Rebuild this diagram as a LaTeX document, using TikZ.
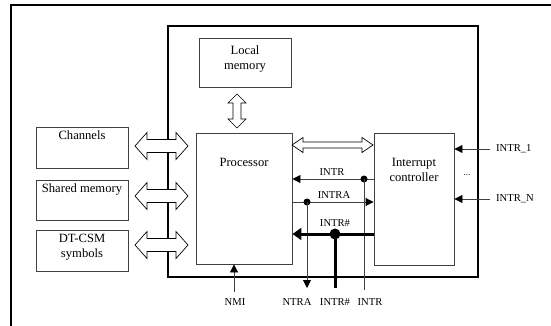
\documentclass[tikz,border=0pt]{standalone}
\usepackage{fontspec}
\setmainfont{Liberation Serif}
\usetikzlibrary{arrows.meta,calc}
\begin{document}
\begin{tikzpicture}[x=1pt,y=-1pt,
  box/.style={draw=black!75, line width=0.9pt, fill=white, inner sep=0pt},
  btxt/.style={font=\fontsize{12.6}{15}\selectfont, align=center, inner sep=0pt, anchor=north},
  lbl/.style={font=\fontsize{10.6}{12}\selectfont, inner sep=0pt},
  sig/.style={draw=black!75, line width=0.9pt},
  tip/.style={-{Triangle[length=8pt,width=8pt,color=black]}},
  bigtip/.style={-{Triangle[length=9pt,width=12pt]}},
  thick bus/.style={draw=black, line width=3pt},
  frame/.style={draw=black, line width=2pt},
  dot/.style={circle, fill=black, inner sep=0pt, minimum size=#1},
  darr/.style={draw=black, line width=0.7pt, fill=white, line join=miter}]
\useasboundingbox (0,0) rectangle (551,326);
% outer frame (cropped)
\draw[frame] (11,330) -- (11,5) -- (555,5);
% inner frame
\draw[frame] (168,26) rectangle (478,277);

% boxes
\node[box, minimum width=92, minimum height=49] (lm) at (245,62.5) {};
\node[box, minimum width=96, minimum height=131] (proc) at (244,198.5) {};
\node[box, minimum width=80, minimum height=132] (ic) at (414,199) {};
\node[box, minimum width=92, minimum height=41] (ch) at (82,147.5) {};
\node[box, minimum width=92, minimum height=40] (sm) at (82,200) {};
\node[box, minimum width=92, minimum height=41] (dt) at (82,250.5) {};

\node[btxt] (lmt) at ($(lm.north)+(0,8)$) {Local\\memory};
\node[btxt] (proct) at ($(proc.north)+(0,25)$) {Processor};
\node[btxt] (ict) at ($(ic.north)+(0,25)$) {Interrupt\\controller};
\node[btxt] (cht) at ($(ch.north)+(0,4)$) {Channels};
\node[btxt] (smt) at ($(sm.north)+(0,4)$) {Shared memory};
\node[btxt] (dtt) at ($(dt.north)+(0,4)$) {DT-CSM\\symbols};

% double arrows left (tips at x=135 and x=188)
\foreach \yy/\nm in {146/ch,196/sm,245/dt}{
  \draw[darr] (135,\yy) -- (147,\yy-13.5) -- (147,\yy-6.5) -- (176,\yy-6.5) -- (176,\yy-13.5)
    -- (188,\yy) -- (176,\yy+13.5) -- (176,\yy+6.5) -- (147,\yy+6.5) -- (147,\yy+13.5) -- cycle;
}
% vertical double arrow local memory <-> processor
\draw[darr] (237,94) -- (246,103) -- (241,103) -- (241,119) -- (246,119) -- (237,128)
  -- (228,119) -- (233,119) -- (233,103) -- (228,103) -- cycle;
% horizontal double arrow processor <-> controller
\draw[darr] (292,145) -- (303,137.5) -- (303,142) -- (362,142) -- (362,137.5) -- (373,145)
  -- (362,152.5) -- (362,148) -- (303,148) -- (303,152.5) -- cycle;

% INTR
\coordinate (intrA) at (ic.west |- 0,179);
\coordinate (intrB) at (proc.east |- 0,179);
\draw[sig, tip] (intrA) -- (intrB);
\node[dot=7pt] (d1) at (364,179) {};
\coordinate (intrEnd) at (364,290);
\draw[sig] (d1.center) -- (intrEnd);
\node[lbl, anchor=south] (l1) at (332,176) {INTR};
\node[lbl] (o1) at (370,302) {INTR};

% INTRA
\coordinate (intraA) at (proc.east |- 0,202);
\coordinate (intraB) at (ic.west |- 0,202);
\draw[sig, tip] (intraA) -- (intraB);
\node[dot=7pt] (d2) at (307,202) {};
\coordinate (intraEnd) at (307,288);
\draw[sig, tip] (d2.center) -- (intraEnd);
\node[lbl, anchor=south] (l2) at (334,199) {INTRA};
\node[lbl] (o2) at (297,302) {NTRA};

% INTR#
\coordinate (inhA) at (ic.west |- 0,234);
\coordinate (inhB) at (proc.east |- 0,234);
\draw[thick bus, bigtip] (inhA) -- (inhB);
\node[dot=11pt] (d3) at (335,234) {};
\coordinate (inhEnd) at (335,288);
\draw[thick bus] (d3.center) -- (inhEnd);
\node[lbl, anchor=south] (l3) at (335,227) {INTR\#};
\node[lbl] (o3) at (335,302) {INTR\#};

% NMI
\coordinate (nmiS) at (234,292);
\draw[sig, tip] (nmiS) -- (proc.south -| nmiS);
\node[lbl] (o4) at (235,302) {NMI};

% external interrupt inputs
\coordinate (i1) at (490,149);
\coordinate (iN) at (490,199);
\draw[sig, tip] (i1) -- (ic.east |- i1);
\draw[sig, tip] (iN) -- (ic.east |- iN);
\node[lbl, anchor=west] (t1) at (496,149) {INTR\_1};
\node[lbl, anchor=west] (tN) at (496,199) {INTR\_N};
\node[lbl, font=\fontsize{9}{10}\selectfont] (dots) at (467,175) {...};
\end{tikzpicture}
\end{document}
